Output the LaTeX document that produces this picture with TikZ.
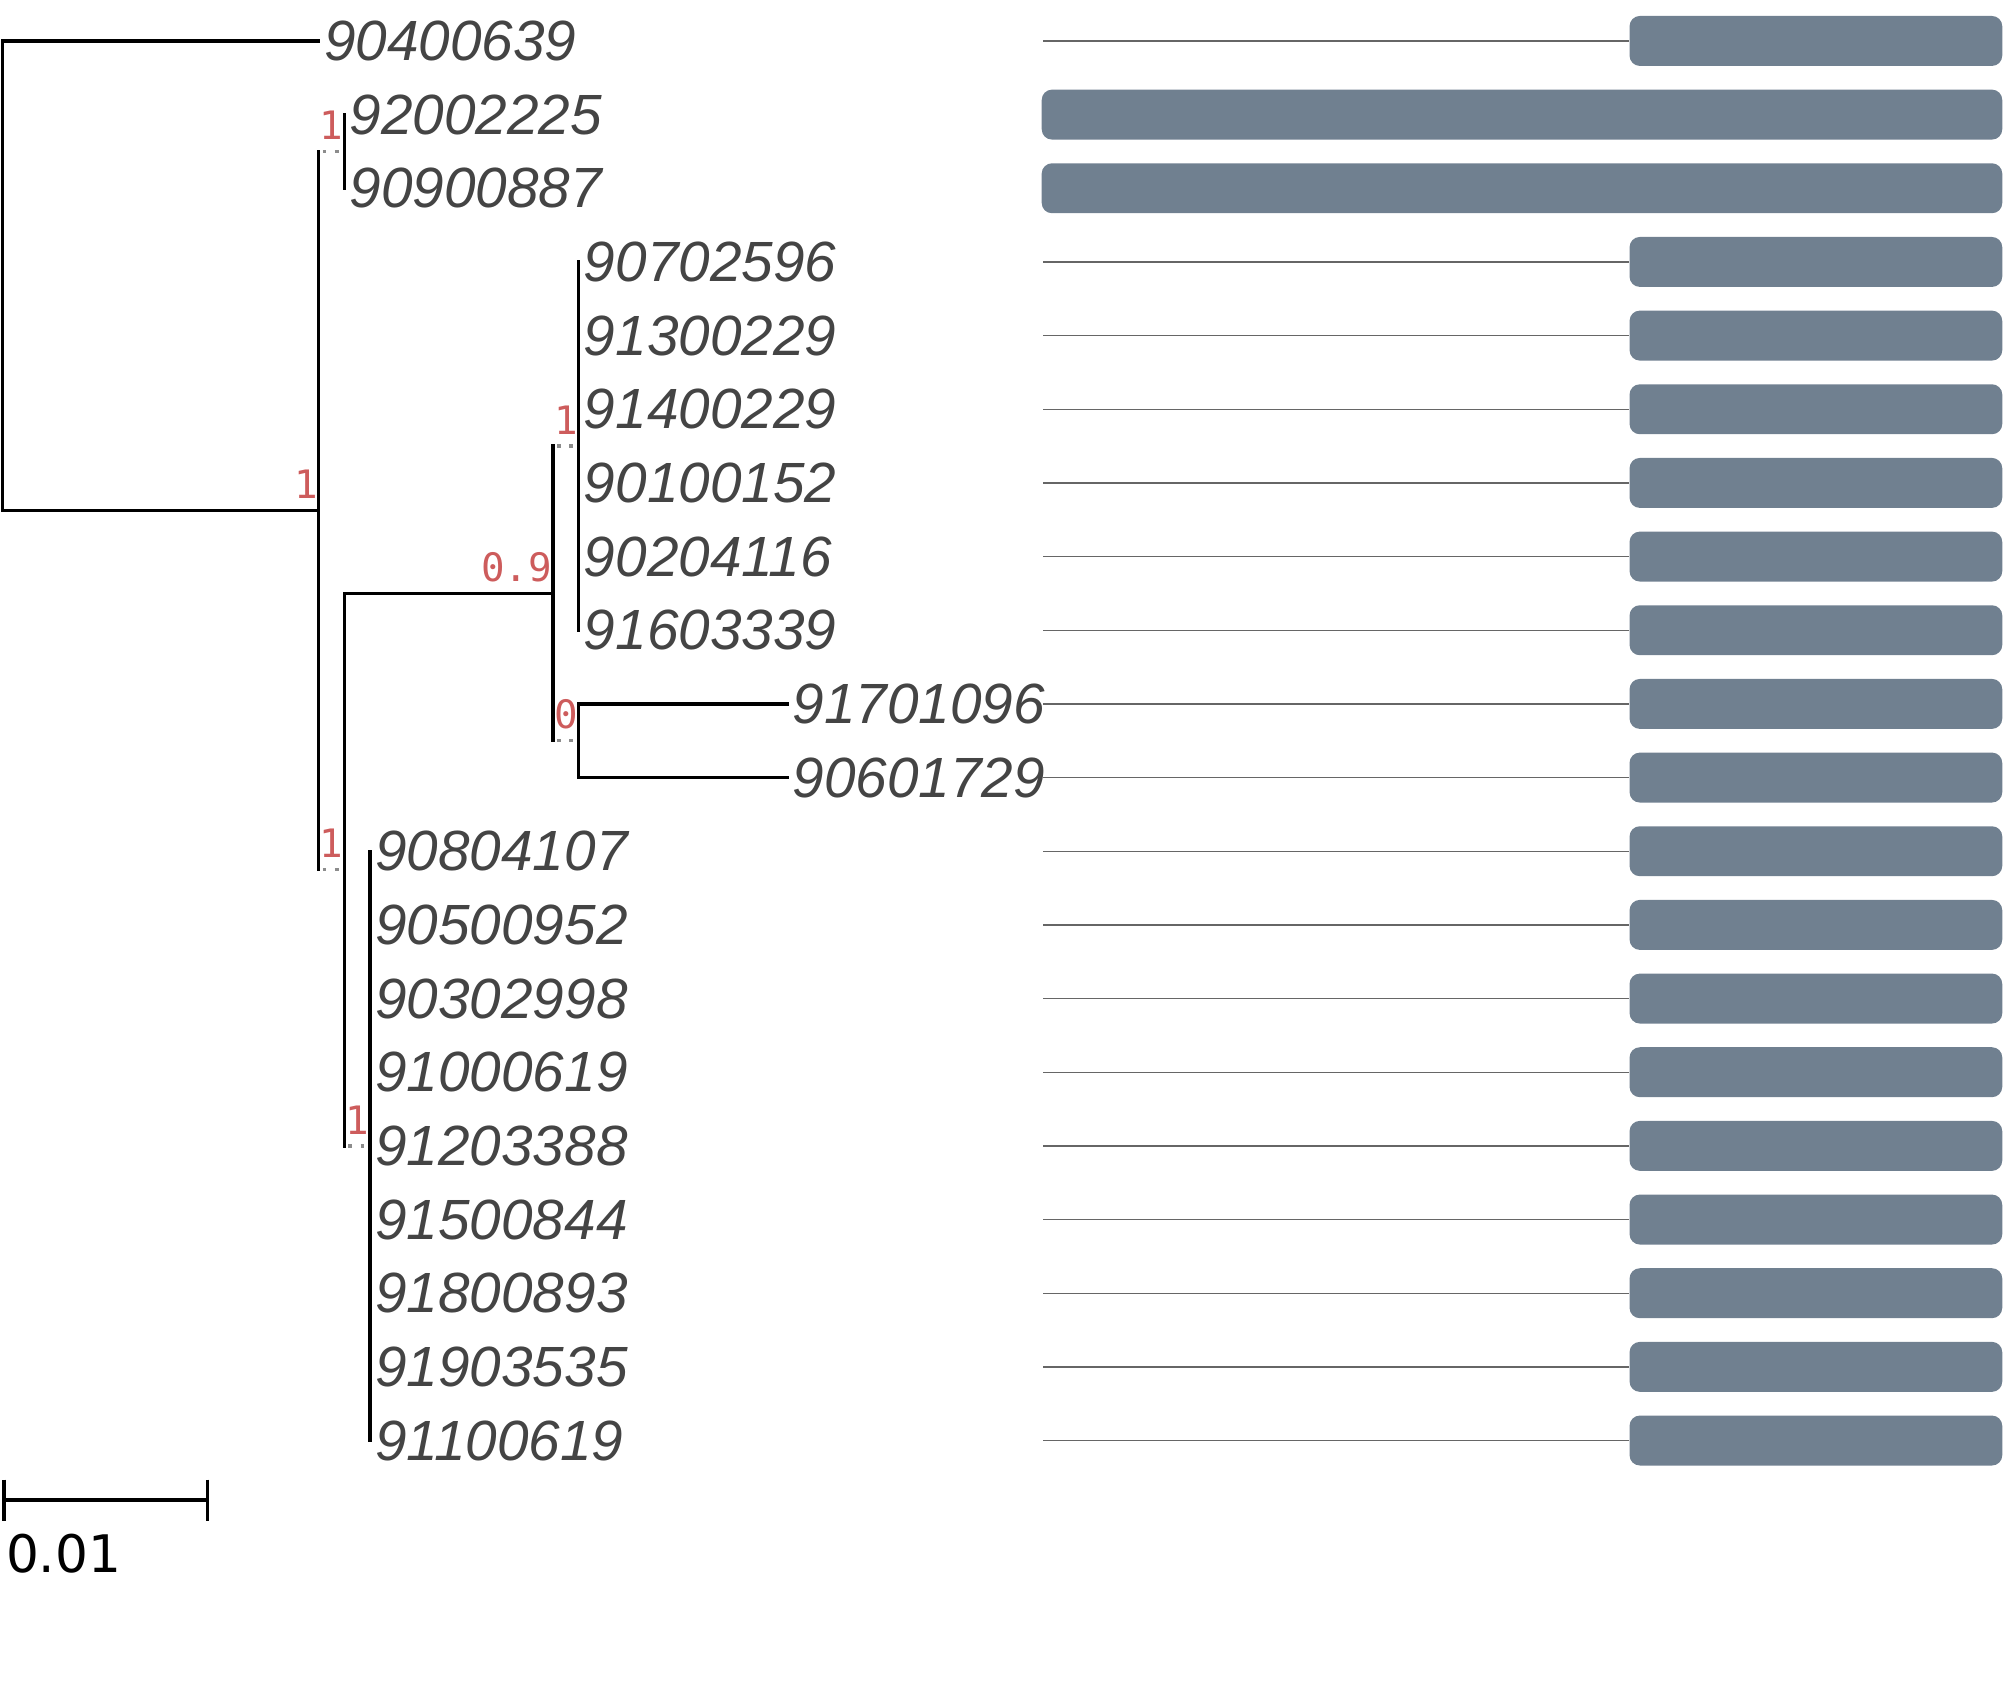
\documentclass[tikz,border=0pt]{standalone}
\usepackage{fontspec}
\setmainfont{Liberation Sans}
\newfontfamily\supportfont{DejaVu Sans Mono}
\newfontfamily\scalebarfont{DejaVu Sans}
\usetikzlibrary{positioning, calc}
\definecolor{slate}{RGB}{112,128,144}
\definecolor{supred}{RGB}{205,92,92}
\definecolor{leafgray}{RGB}{68,68,68}

\begin{document}
\begin{tikzpicture}[x=0.01cm, y=-0.01cm,
    branch/.style={line width=0.75pt, line cap=rect},
    stub/.style={line width=0.75pt, draw=black!45, dash pattern=on 0.8pt off 1.9pt, dash phase=1.8pt},
    leaf/.style={anchor=west, inner xsep=1pt, inner ysep=0pt, text=leafgray,
      font=\fontsize{12.6}{14}\selectfont\itshape},
    support/.style={inner sep=0pt, text=supred, font=\supportfont\fontsize{8.7}{10}\selectfont},
    bar/.style={fill=slate, rounded corners=0.08cm, inner sep=0pt, minimum height=0.39cm},
    guide/.style={line width=0.3pt, draw=black!60}]

  \useasboundingbox (0,0) rectangle (1568,1316);

  \coordinate (root) at (2,215.45);
  \coordinate (A) at (249,398.9);
  \coordinate (B) at (269,118.3);
  \coordinate (C) at (269,679.4);
  \coordinate (D) at (432,463.6);
  \coordinate (E) at (289,895.25);
  \coordinate (F) at (452,348.5);
  \coordinate (G) at (452,578.7);

  \node[leaf] (t90400639) at (249,32) {90400639};
  \node[leaf] (t92002225) at (269,89.55) {92002225};
  \node[leaf] (t90900887) at (269,147.1) {90900887};
  \foreach \name [count=\i from 4] in {90702596,91300229,91400229,90100152,90204116,91603339}
    \node[leaf] (t\name) at (452,{32+57.55*(\i-1)}) {\name};
  \node[leaf] (t91701096) at (615,549.95) {91701096};
  \node[leaf] (t90601729) at (615,607.5) {90601729};
  \foreach \name [count=\i from 12] in {90804107,90500952,90302998,91000619,91203388,91500844,91800893,91903535,91100619}
    \node[leaf] (t\name) at (289,{32+57.55*(\i-1)}) {\name};

  \draw[branch] (root) |- (t90400639.west);
  \draw[branch] (root) |- (A);
  \draw[branch] (A) -- (A |- B);
  \draw[stub] (A |- B) -- (B);
  \draw[branch] (A) -- (A |- C);
  \draw[stub] (A |- C) -- (C);
  \draw[branch] (B) |- (t92002225.west);
  \draw[branch] (B) |- (t90900887.west);
  \draw[branch] (C) |- (D);
  \draw[branch] (C) -- (C |- E);
  \draw[stub] (C |- E) -- (E);
  \draw[branch] (D) -- (D |- F);
  \draw[stub] (D |- F) -- (F);
  \draw[branch] (D) -- (D |- G);
  \draw[stub] (D |- G) -- (G);
  \foreach \name in {90702596,91300229,91400229,90100152,90204116,91603339}
    \draw[branch] (F) |- (t\name.west);
  \draw[branch] (G) |- (t91701096.west);
  \draw[branch] (G) |- (t90601729.west);
  \foreach \name in {90804107,90500952,90302998,91000619,91203388,91500844,91800893,91903535,91100619}
    \draw[branch] (E) |- (t\name.west);

  \node[support, above left=2.4pt and 0pt of A] (sA) {1};
  \node[support, above left=2.4pt and 0pt of B] (sB) {1};
  \node[support, above left=2.4pt and 0pt of C] (sC) {1};
  \node[support, above left=2.4pt and 0pt of D] (sD) {0.9};
  \node[support, above left=2.4pt and 0pt of E] (sE) {1};
  \node[support, above left=2.4pt and 0pt of F] (sF) {1};
  \node[support, above left=2.4pt and 0pt of G] (sG) {0};

  \foreach \i in {1,4,5,6,7,8,9,10,11,12,13,14,15,16,17,18,19,20} {
    \node[bar, anchor=east, minimum width=2.91cm] (bar\i) at (1565,{32+57.55*(\i-1)}) {};
    \draw[guide] (815,{32+57.55*(\i-1)}) -- (bar\i.west);
  }
  \foreach \i in {2,3}
    \node[bar, anchor=east, minimum width=7.5cm] (bar\i) at (1565,{32+57.55*(\i-1)}) {};

  \coordinate (s0) at (3,1172);
  \coordinate (s1) at (162,1172);
  \draw[branch, line cap=butt] (s0) -- (s1);
  \draw[branch, line cap=butt] ([yshift=0.16cm]s0) -- ([yshift=-0.16cm]s0);
  \draw[branch, line cap=butt] ([yshift=0.16cm]s1) -- ([yshift=-0.16cm]s1);
  \node[anchor=north west, inner sep=0pt, font=\scalebarfont\fontsize{11.5}{13}\selectfont] (scalelab) at (4,1198) {0.01};
\end{tikzpicture}
\end{document}
